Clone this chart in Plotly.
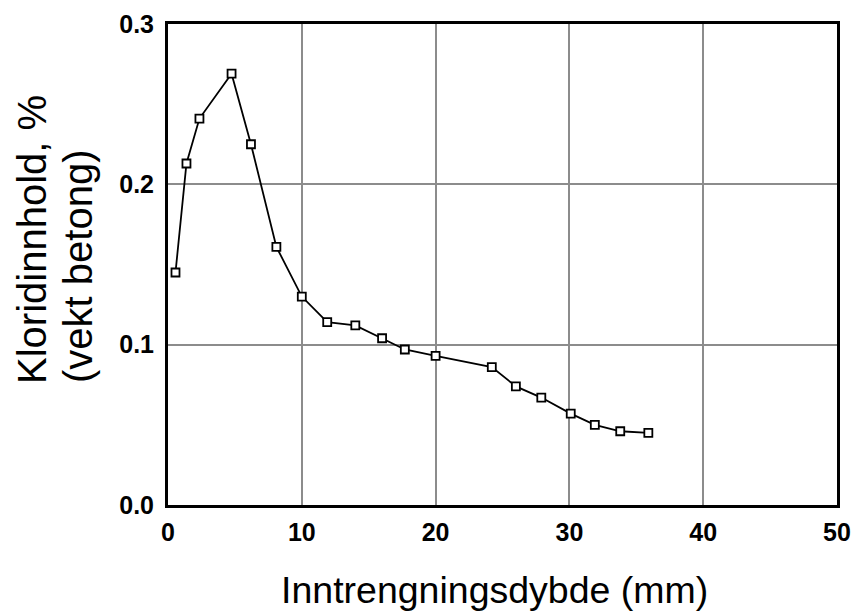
import plotly.graph_objects as go

depth_mm = [0.56, 1.38, 2.35, 4.75, 6.2, 8.1, 10.0, 11.9, 14.0, 16.0, 17.7, 20.0,
            24.2, 26.0, 27.9, 30.1, 31.9, 33.8, 35.9]
chloride_pct = [0.145, 0.213, 0.241, 0.269, 0.225, 0.161, 0.130, 0.114, 0.112, 0.104,
                0.097, 0.093, 0.086, 0.074, 0.067, 0.057, 0.050, 0.046, 0.045]

x_ticks = [0, 10, 20, 30, 40, 50]
y_ticks = [0.0, 0.1, 0.2, 0.3]
y_tick_labels = ["0.0", "0.1", "0.2", "0.3"]

x_title = "Inntrengningsdybde (mm)"
y_title_1 = "Kloridinnhold, %"
y_title_2 = "(vekt betong)"

fig = go.Figure()
fig.add_trace(go.Scatter(
    x=depth_mm, y=chloride_pct, mode="lines+markers",
    line=dict(color="black", width=1.8),
    marker=dict(symbol="square", size=8, color="white",
                line=dict(color="black", width=1.8)),
    showlegend=False,
))

L, R, T, B = 168, 16, 24, 109
W, H = 853, 614
pw = W - L - R
ph = H - T - B

tickfont = dict(family="Liberation Sans, Arial, sans-serif",
                size=25, color="black", weight="bold")

fig.update_layout(
    width=W, height=H,
    margin=dict(l=L, r=R, t=T, b=B),
    paper_bgcolor="white", plot_bgcolor="white",
    xaxis=dict(range=[0, 50], tickvals=x_ticks, ticktext=[str(v) for v in x_ticks],
               showgrid=True, gridcolor="#8c8c8c", gridwidth=2, automargin=False,
               showline=True, linecolor="black", linewidth=3, mirror=True,
               ticks="", tickfont=tickfont, ticklabelstandoff=3, zeroline=False),
    yaxis=dict(range=[0, 0.3], tickvals=y_ticks, ticktext=y_tick_labels,
               showgrid=True, gridcolor="#8c8c8c", gridwidth=2, automargin=False,
               showline=True, linecolor="black", linewidth=3, mirror=True,
               ticks="", tickfont=tickfont, ticklabelstandoff=6, zeroline=False),
    annotations=[
        dict(text=x_title, xref="paper", yref="paper",
             x=(494 - L) / pw, y=-(590 - (T + ph)) / ph,
             xanchor="center", yanchor="middle", showarrow=False,
             font=dict(family="Liberation Sans, Arial, sans-serif", size=37.5, color="black")),
        dict(text=y_title_1, xref="paper", yref="paper", textangle=-90,
             x=-(L - 32) / pw, y=1 - (240 - T) / ph,
             xanchor="center", yanchor="middle", showarrow=False,
             font=dict(family="Liberation Sans, Arial, sans-serif", size=40, color="black")),
        dict(text=y_title_2, xref="paper", yref="paper", textangle=-90,
             x=-(L - 78) / pw, y=1 - (267 - T) / ph,
             xanchor="center", yanchor="middle", showarrow=False,
             font=dict(family="Liberation Sans, Arial, sans-serif", size=40, color="black")),
    ],
)

fig.write_html("out.html", config={"displayModeBar": False},
               post_script="document.body.style.margin='0';document.body.style.overflow='hidden';")
